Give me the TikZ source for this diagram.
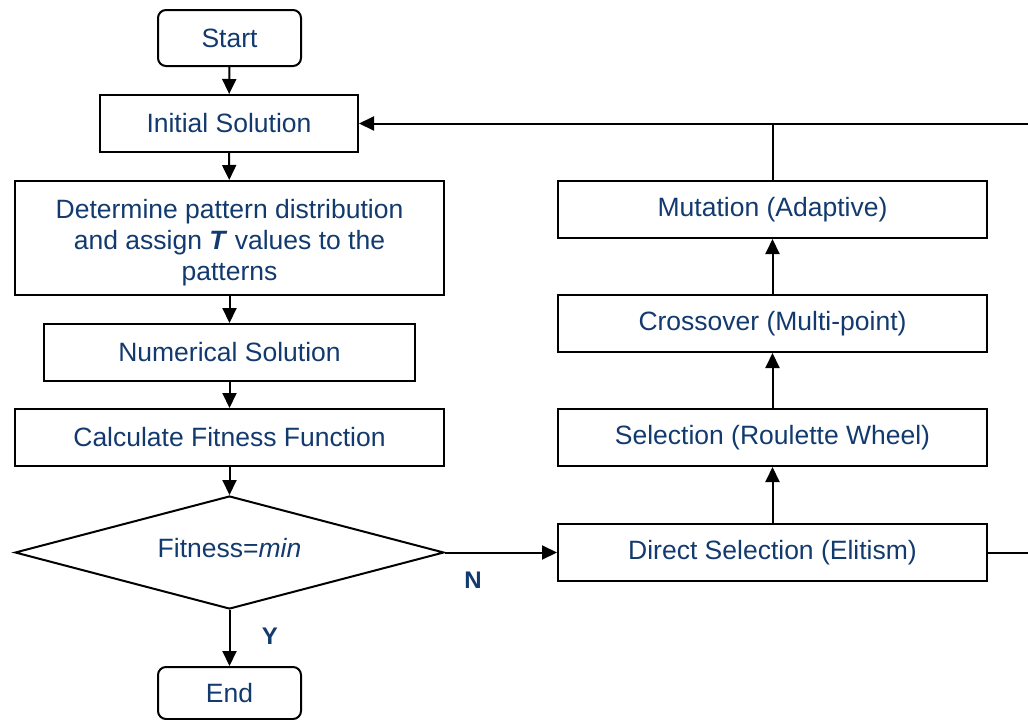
\documentclass[tikz,border=0pt]{standalone}
\usepackage{fontspec}
\setmainfont{Liberation Sans}
\usetikzlibrary{arrows.meta,shapes.geometric}
\definecolor{txtblue}{RGB}{18,58,110}
\begin{document}
\begin{tikzpicture}[x=1pt,y=-1pt,
  every node/.style={font=\fontsize{26.5}{31}\selectfont, text=txtblue},
  box/.style={draw=black, line width=2pt, rectangle, inner sep=0pt, align=center},
  rbox/.style={box, rounded corners=8pt},
  dec/.style={draw=black, line width=2pt, diamond, inner sep=0pt, aspect=3.8},
  conn/.style={draw=black, line width=2pt},
  arr/.style={conn, -{Triangle[length=15pt,width=14pt]}},
  lab/.style={font=\fontsize{24}{28}\selectfont\bfseries}
]
\useasboundingbox (0,0) rectangle (1028,720);
\node[rbox, minimum width=143pt, minimum height=56pt] (start) at (229.5,38) {Start};
\node[box, minimum width=258pt, minimum height=57pt] (init) at (229,123.5) {Initial Solution};
\node[box, minimum width=429pt, minimum height=114pt] (det) at (229.5,238) {};
\node[align=center, inner sep=0pt] (dettxt) at (229.5,243)
  {Determine pattern distribution\\and assign \textbf{\textit{T}} values to the\\patterns};
\node[box, minimum width=371pt, minimum height=57pt] (num) at (229.5,352.5) {Numerical Solution};
\node[box, minimum width=429pt, minimum height=57pt] (calc) at (229.5,437.5) {Calculate Fitness Function};
\node[dec, minimum width=429pt, minimum height=113pt] (fit) at (229.5,552.5) {};
\node (fittxt) at (229.5,548.5) {Fitness=\textit{min}};
\node[rbox, minimum width=143pt, minimum height=52pt] (end) at (229.5,693) {End};

\node[box, minimum width=429pt, minimum height=57pt] (mut) at (772.5,209.5) {Mutation (Adaptive)};
\node[box, minimum width=429pt, minimum height=57pt] (cross) at (772.5,323.5) {Crossover (Multi-point)};
\node[box, minimum width=429pt, minimum height=57pt] (sel) at (772.5,437.5) {Selection (Roulette Wheel)};
\node[box, minimum width=429pt, minimum height=57pt] (dir) at (772.5,552.5) {Direct Selection (Elitism)};

\node[lab] (nlab) at (473,580) {N};
\node[lab] (ylab) at (270,636) {Y};

\draw[arr] (start) -- (init);
\draw[arr] (init) -- (det);
\draw[arr] (det) -- (num);
\draw[arr] (num) -- (calc);
\draw[arr] (calc) -- (fit);
\draw[arr] (fit) -- (end);
\draw[arr] (fit.east) -- (dir.west);
\draw[arr] (dir) -- (sel);
\draw[arr] (sel) -- (cross);
\draw[arr] (cross) -- (mut);

\coordinate (fbR) at (1032,552.5);
\coordinate (fbT) at (1032,123.5);
\draw[arr] (dir.east) -- (fbR) -- (fbT) -- (init.east);
\draw[conn] (mut.north) -- (mut.north |- fbT);
\end{tikzpicture}
\end{document}
